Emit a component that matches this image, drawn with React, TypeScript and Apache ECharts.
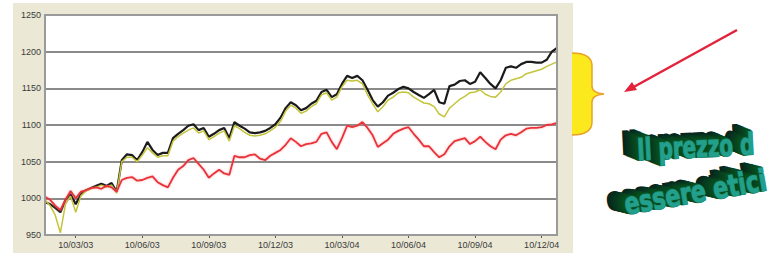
import React, { useEffect, useRef } from "react";
import * as echarts from "echarts";

const xTickIndex = [6, 19, 32, 45, 58, 71, 84, 97];
const xTickLabels = ["10/03/03", "10/06/03", "10/09/03", "10/12/03", "10/03/04", "10/06/04", "10/09/04", "10/12/04"];

const redSeries = [
  1002, 998, 990, 984, 998, 1010, 1000, 1009, 1011, 1014,
  1015, 1013, 1017, 1015, 1009, 1025, 1028, 1029, 1024, 1025,
  1028, 1030, 1022, 1018, 1015, 1028, 1039, 1044, 1052, 1055,
  1047, 1039, 1028, 1034, 1039, 1034, 1032, 1058, 1056, 1056,
  1059, 1060, 1054, 1052, 1058, 1062, 1066, 1073, 1082, 1077,
  1071, 1074, 1075, 1077, 1088, 1090, 1077, 1067, 1082, 1099,
  1097, 1099, 1104, 1096, 1086, 1070, 1075, 1080, 1088, 1092,
  1095, 1097, 1088, 1080, 1071, 1071, 1063, 1056, 1060, 1071,
  1078, 1080, 1082, 1074, 1078, 1084, 1077, 1071, 1067, 1080,
  1086, 1088, 1086, 1090, 1095, 1096, 1096, 1097, 1100, 1101,
  1103,
];

const blackSeries = [
  995, 992, 987, 981, 998, 1006, 992, 1006, 1011, 1014,
  1017, 1020, 1017, 1021, 1009, 1052, 1060, 1059, 1052, 1063,
  1077, 1066, 1059, 1062, 1062, 1082, 1088, 1093, 1099, 1101,
  1093, 1096, 1084, 1088, 1093, 1096, 1082, 1104, 1099, 1095,
  1090, 1089, 1090, 1092, 1096, 1101, 1110, 1123, 1131, 1127,
  1120, 1123, 1129, 1133, 1145, 1148, 1138, 1142, 1156, 1167,
  1164, 1167, 1161, 1148, 1134, 1125, 1131, 1140, 1144, 1149,
  1152, 1150, 1145, 1141, 1137, 1142, 1148, 1131, 1129, 1153,
  1155, 1160, 1161, 1156, 1159, 1172, 1164, 1156, 1150, 1161,
  1178, 1180, 1178, 1183, 1186, 1186, 1185, 1185, 1189, 1200,
  1205,
];

const yellowSeries = [
  998, 990, 977, 953, 992, 1003, 981, 1003, 1010, 1013,
  1015, 1018, 1015, 1018, 1007, 1050, 1056, 1056, 1050, 1059,
  1069, 1062, 1056, 1058, 1058, 1078, 1084, 1089, 1093, 1096,
  1089, 1092, 1080, 1084, 1089, 1092, 1078, 1099, 1095, 1090,
  1086, 1085, 1086, 1088, 1092, 1097, 1105, 1119, 1127, 1123,
  1116, 1119, 1125, 1129, 1141, 1144, 1134, 1138, 1152, 1161,
  1160, 1161, 1156, 1141, 1129, 1118, 1125, 1134, 1138, 1144,
  1145, 1144, 1138, 1134, 1130, 1129, 1125, 1115, 1111, 1123,
  1129, 1135, 1139, 1144, 1145, 1148, 1142, 1139, 1138, 1145,
  1156, 1161, 1163, 1165, 1170, 1172, 1174, 1176, 1180, 1183,
  1186,
];

const titleLine1 = "Il prezzo d";
const titleLine2 = "essere etici";

const bracePath =
  "M572 53 Q592 53 592 66 L592 86 Q592 93 604 94 Q592 95 592 102 L592 122 Q592 135 572 135 Z";
const braceEdge =
  "M572 53 Q592 53 592 66 L592 86 Q592 93 604 94 Q592 95 592 102 L592 122 Q592 135 572 135";

let registered = false;
function registerShapes() {
  if (registered) return;
  registered = true;
  echarts.graphic.registerShape("braceFill", echarts.graphic.extendPath(bracePath, {}) as any);
  echarts.graphic.registerShape("braceEdge", echarts.graphic.extendPath(braceEdge, {}) as any);
}

function text3d(str: string, x: number, y: number, rotation: number, scaleX: number) {
  const font = 'bold 30px "DejaVu Sans Condensed", "Liberation Sans Narrow", sans-serif';
  const children: any[] = [];
  const steps = 12;
  for (let i = steps; i >= 1; i--) {
    const t = i / steps;
    const g = Math.round(36 + (1 - t) * 48);
    const c = `rgb(6, ${g}, 30)`;
    children.push({
      type: "text",
      x: -1.7 * i,
      y: -0.6 * i,
      style: {
        text: str,
        font,
        fill: c,
        stroke: c,
        lineWidth: 2.5,
        verticalAlign: "bottom",
        align: "left",
      },
    });
  }
  children.push({
    type: "text",
    x: 0,
    y: 0,
    style: {
      text: str,
      font,
      fill: "#22a08c",
      stroke: "#1d8f7a",
      lineWidth: 1.4,
      verticalAlign: "bottom",
      align: "left",
    },
  });
  return { type: "group", x, y, rotation, scaleX, children };
}

export default function App() {
  const ref = useRef<HTMLDivElement>(null);
  useEffect(() => {
    if (!ref.current) return;
    registerShapes();
    const chart = echarts.init(ref.current, undefined, { renderer: "svg" });
    const categories = redSeries.map((_, i) => String(i));
    const labelAt = (i: number) => xTickIndex.indexOf(i) >= 0;

    chart.setOption({
      animation: false,
      backgroundColor: "#ffffff",
      grid: {
        left: 45,
        top: 15,
        width: 512,
        height: 220,
        show: false,
      },
      xAxis: {
        type: "category",
        data: categories,
        boundaryGap: false,
        axisLine: { show: false },
        axisTick: {
          show: true,
          interval: (i: number) => labelAt(i),
          length: 3,
          lineStyle: { color: "#555" },
        },
        axisLabel: {
          interval: (i: number) => labelAt(i),
          formatter: (_v: string, i: number) => {
            const k = xTickIndex.indexOf(i);
            return k >= 0 ? xTickLabels[k] : "";
          },
          fontSize: 9,
          color: "#3a3a3a",
          margin: 5,
          fontFamily: "Liberation Sans, Arial, sans-serif",
        },
        splitLine: { show: false },
      },
      yAxis: {
        type: "value",
        min: 950,
        max: 1250,
        interval: 50,
        axisLine: { show: false },
        axisTick: { show: false },
        axisLabel: {
          formatter: (v: number) => String(v),
          fontSize: 9,
          color: "#3a3a3a",
          margin: 4,
          fontFamily: "Liberation Sans, Arial, sans-serif",
        },
        splitLine: { show: true, lineStyle: { color: "#8a8a8a", width: 2 } },
      },
      series: [
        {
          type: "line",
          data: blackSeries,
          symbol: "none",
          z: 3,
          lineStyle: { color: "#1b1b1b", width: 2.2 },
        },
        {
          type: "line",
          data: yellowSeries,
          symbol: "none",
          z: 4,
          lineStyle: { color: "#c4c43c", width: 1.5 },
        },
        {
          type: "line",
          data: redSeries,
          symbol: "none",
          z: 5,
          lineStyle: { color: "#e8323a", width: 1.8, shadowBlur: 2, shadowColor: "rgba(255,120,120,0.6)" },
        },
      ],
      graphic: [
        {
          type: "rect",
          z: -100,
          silent: true,
          shape: { x: 13, y: 3, width: 560, height: 250 },
          style: { fill: "#ebe9d6" },
        },
        {
          type: "rect",
          z: -90,
          silent: true,
          shape: { x: 45, y: 15, width: 512, height: 220 },
          style: { fill: "#ffffff" },
        },
        {
          type: "rect",
          z: 20,
          silent: true,
          shape: { x: 45, y: 15, width: 512, height: 220 },
          style: { fill: "none", stroke: "#9a9a9a", lineWidth: 2 },
        },
        {
          type: "braceFill",
          x: 0,
          y: 0,
          z: 10,
          style: { fill: "#fbe91e", stroke: "none" },
        },
        {
          type: "braceEdge",
          x: 0,
          y: 0,
          z: 11,
          style: { fill: "none", stroke: "#e9a12a", lineWidth: 1.5 },
        },
        {
          type: "line",
          z: 10,
          shape: { x1: 737, y1: 30, x2: 630, y2: 89 },
          style: { stroke: "#e3223c", lineWidth: 2.5 },
        },
        {
          type: "polygon",
          z: 10,
          shape: { points: [[624, 92], [637, 90], [632, 82]] },
          style: { fill: "#e3223c" },
        },
        { ...text3d(titleLine1, 638, 165, 0.05, 0.74), z: 10 },
        { ...text3d(titleLine2, 627, 219, 0.17, 0.82), z: 10 },
      ],
    });
    return () => chart.dispose();
  }, []);

  return (
    <div
      ref={ref}
      style={{ position: "fixed", left: 0, top: 0, width: 771, height: 257 }}
    />
  );
}
